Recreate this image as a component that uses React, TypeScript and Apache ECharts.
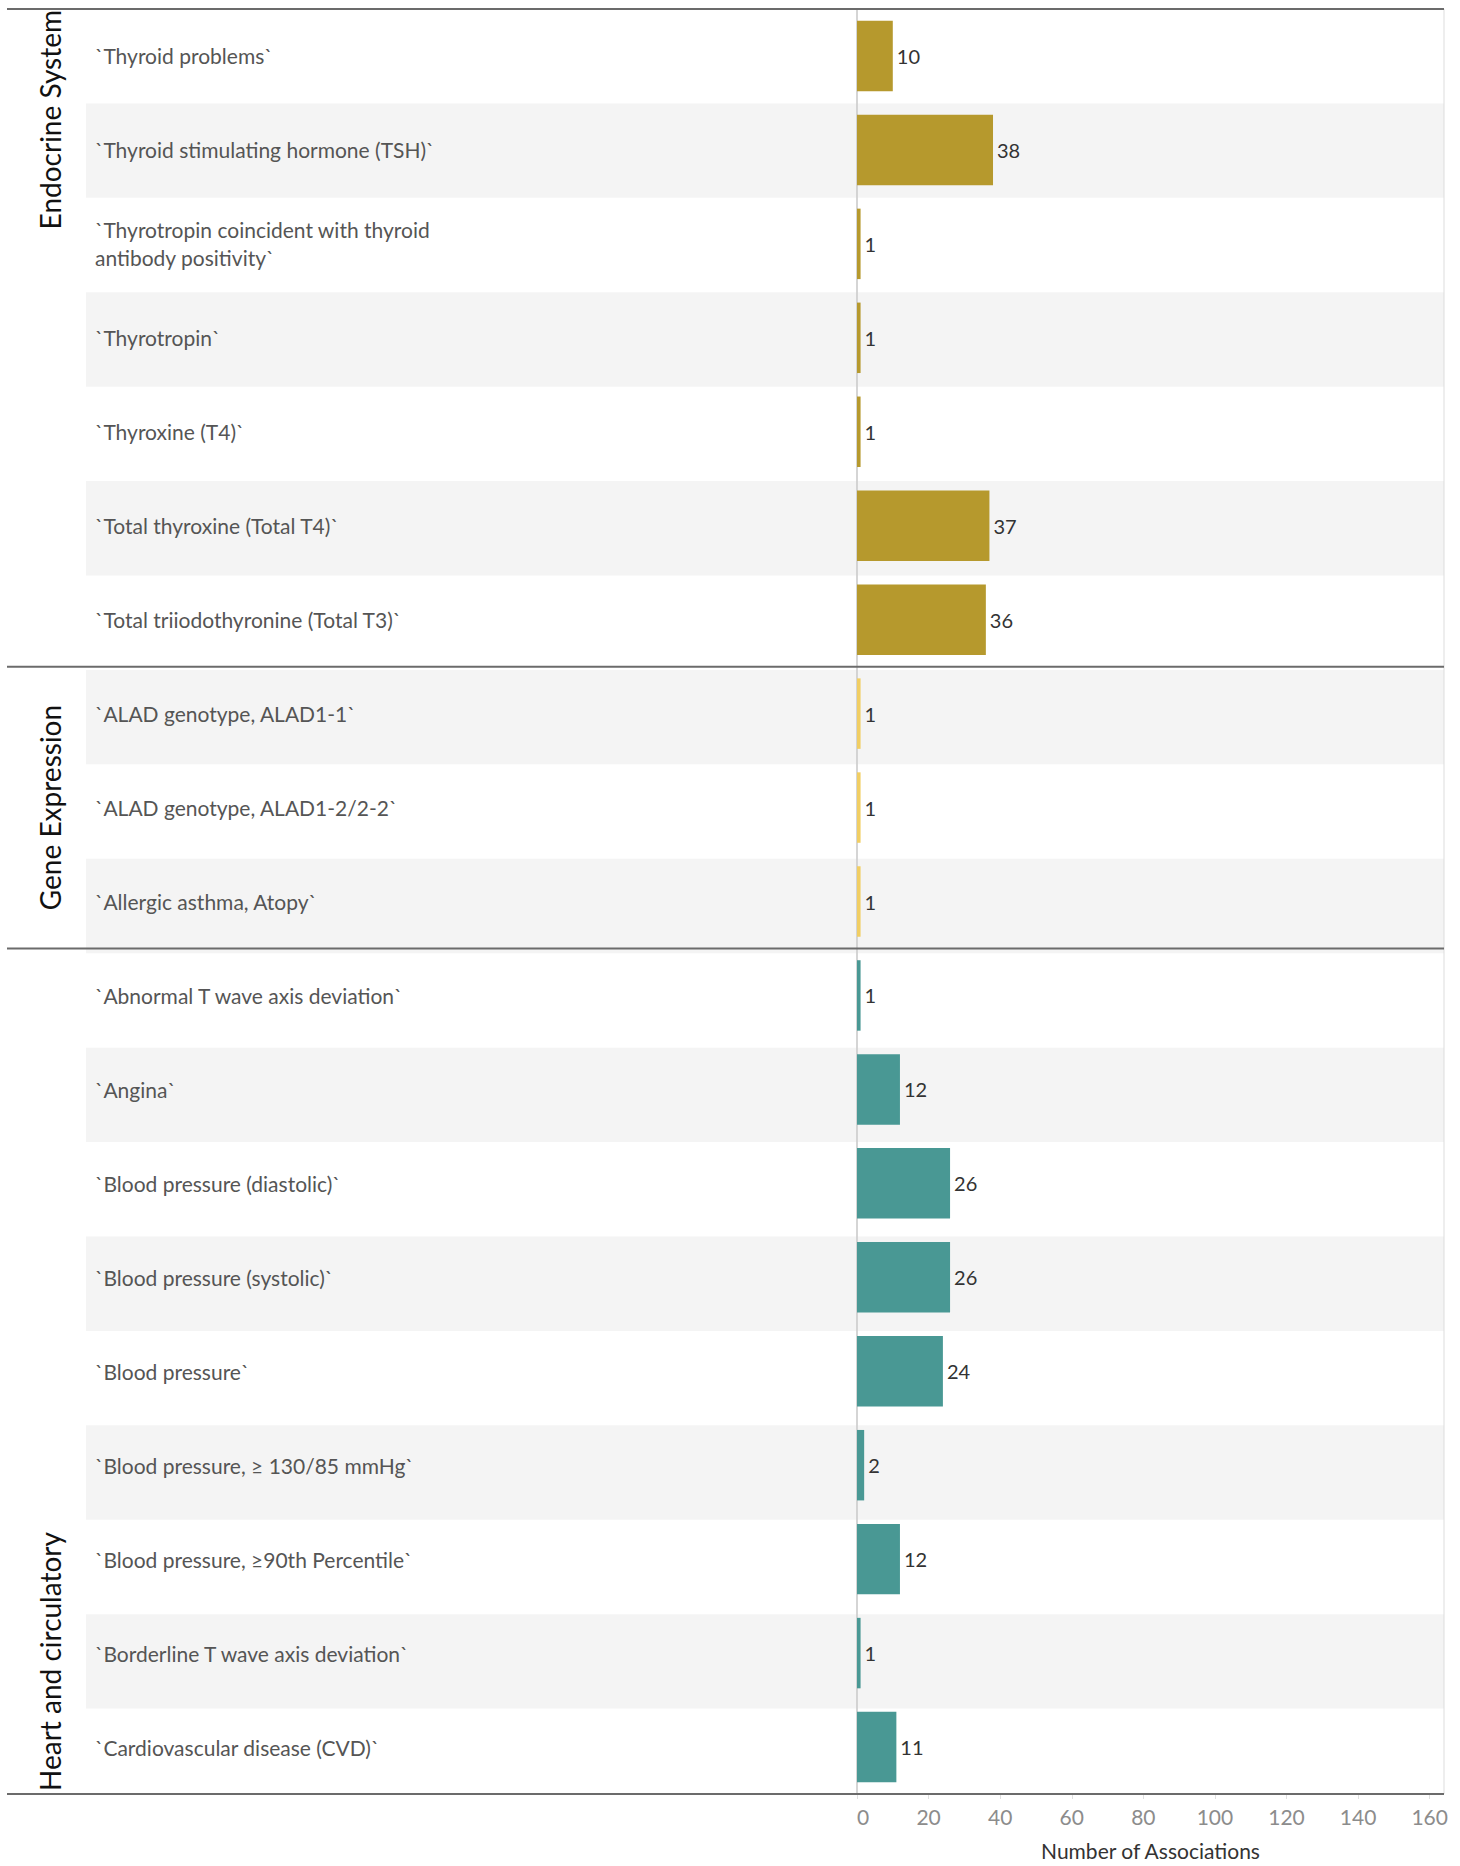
import React, { useEffect, useRef } from "react";
import * as echarts from "echarts";

const categories = [
  "`Thyroid problems`",
  "`Thyroid stimulating hormone (TSH)`",
  "`Thyrotropin coincident with thyroid antibody positivity`",
  "`Thyrotropin`",
  "`Thyroxine (T4)`",
  "`Total thyroxine (Total T4)`",
  "`Total triiodothyronine (Total T3)`",
  "`ALAD genotype, ALAD1-1`",
  "`ALAD genotype, ALAD1-2/2-2`",
  "`Allergic asthma, Atopy`",
  "`Abnormal T wave axis deviation`",
  "`Angina`",
  "`Blood pressure (diastolic)`",
  "`Blood pressure (systolic)`",
  "`Blood pressure`",
  "`Blood pressure, ≥ 130/85 mmHg`",
  "`Blood pressure, ≥90th Percentile`",
  "`Borderline T wave axis deviation`",
  "`Cardiovascular disease (CVD)`",
];

const values = [10, 38, 1, 1, 1, 37, 36, 1, 1, 1, 1, 12, 26, 26, 24, 2, 12, 1, 11];

const groups = [
  "Endocrine System",
  "Endocrine System",
  "Endocrine System",
  "Endocrine System",
  "Endocrine System",
  "Endocrine System",
  "Endocrine System",
  "Gene Expression",
  "Gene Expression",
  "Gene Expression",
  "Heart and circulatory",
  "Heart and circulatory",
  "Heart and circulatory",
  "Heart and circulatory",
  "Heart and circulatory",
  "Heart and circulatory",
  "Heart and circulatory",
  "Heart and circulatory",
  "Heart and circulatory",
];

const groupNames = ["Endocrine System", "Gene Expression", "Heart and circulatory"];
const groupColors = ["#b6992d", "#f1ce63", "#499894"];
const groupLabelAlign = ["top", "center", "bottom"];

const xMin = 0;
const xMax = 164;
const xInterval = 20;
const axisTitle = "Number of Associations";

const FONT = 'Lato, "Noto Sans", sans-serif';

export default function App() {
  const ref = useRef<HTMLDivElement>(null);

  useEffect(() => {
    if (!ref.current) return;
    const chart = echarts.init(ref.current, null, { renderer: "svg" });

    const gridTop = 9;
    const gridBottom = 63;
    const gridRight = 16;

    const option: any = {
      animation: false,
      backgroundColor: "#ffffff",
      textStyle: { fontFamily: FONT },
      grid: [
        {
          left: 857,
          right: gridRight,
          top: gridTop,
          bottom: gridBottom,
          show: true,
          borderColor: "#dddddd",
          borderWidth: 1,
          backgroundColor: "transparent",
          z: 3,
        },
        {
          left: 86,
          right: gridRight,
          top: gridTop,
          bottom: gridBottom,
          show: false,
          z: 0,
        },
      ],
      xAxis: [
        {
          type: "value",
          gridIndex: 0,
          min: xMin,
          max: xMax,
          interval: xInterval,
          z: 3,
          axisLine: { show: false },
          axisTick: {
            show: true,
            length: 5,
            lineStyle: { color: "#e0e0e0", width: 1 },
          },
          splitLine: { show: false },
          axisLabel: {
            color: "#8c8c8c",
            fontSize: 21,
            fontFamily: FONT,
            margin: 12,
            showMaxLabel: false,
            alignMinLabel: "left",
          },
          name: axisTitle,
          nameLocation: "middle",
          nameGap: 46,
          nameTextStyle: { color: "#333333", fontSize: 21, fontFamily: FONT },
        },
        {
          type: "value",
          gridIndex: 1,
          show: false,
          min: 0,
          max: 1,
        },
      ],
      yAxis: [
        {
          type: "category",
          gridIndex: 0,
          data: categories,
          inverse: true,
          z: 3,
          axisLine: { show: true, lineStyle: { color: "#cccccc", width: 1.5 } },
          axisTick: { show: false },
          splitLine: { show: false },
          axisLabel: {
            align: "left",
            margin: 857 - 95,
            color: "#555555",
            fontSize: 21,
            fontFamily: FONT,
            width: 390,
            overflow: "break",
            lineHeight: 28,
          },
        },
        {
          type: "category",
          gridIndex: 1,
          data: categories,
          inverse: true,
          z: 0,
          axisLine: { show: false },
          axisTick: { show: false },
          axisLabel: { show: false },
          splitLine: { show: false },
          splitArea: {
            show: true,
            areaStyle: { color: ["rgba(255,255,255,0)", "#f4f4f4"] },
          },
        },
      ],
      series: [
        {
          type: "bar",
          xAxisIndex: 0,
          yAxisIndex: 0,
          z: 5,
          barWidth: "75%",
          data: values.map((v, i) => ({
            value: v,
            itemStyle: { color: groupColors[groupNames.indexOf(groups[i])] },
          })),
          label: {
            show: true,
            position: "right",
            distance: 4,
            color: "#333333",
            fontSize: 20,
            fontFamily: FONT,
          },
        },
      ],
    };

    chart.setOption(option);

    // group separators and labels positioned through the category scale
    const centers = categories.map((_, i) =>
      chart.convertToPixel({ yAxisIndex: 0 }, i) as number
    );
    const band = Math.abs(centers[1] - centers[0]);
    const rightX = chart.convertToPixel({ xAxisIndex: 0 }, xMax) as number;
    const lineLeft = 7;

    const graphics: any[] = [];
    const bounds: { start: number; end: number }[] = [];
    groupNames.forEach((g) => {
      const idx = groups
        .map((gg, i) => (gg === g ? i : -1))
        .filter((i) => i >= 0);
      const start = centers[idx[0]] - band / 2;
      const end = centers[idx[idx.length - 1]] + band / 2;
      bounds.push({ start, end });
    });

    const lineYs = [bounds[0].start, ...bounds.map((b) => b.end)];
    lineYs.forEach((y) => {
      graphics.push({
        type: "line",
        z: 20,
        shape: { x1: lineLeft, y1: y, x2: rightX, y2: y },
        style: { stroke: "#6b6b6b", lineWidth: 2 },
      });
    });

    groupNames.forEach((g, gi) => {
      const b = bounds[gi];
      const mode = groupLabelAlign[gi];
      let y = (b.start + b.end) / 2;
      let align = "center";
      if (mode === "top") {
        y = b.start + 1;
        align = "right";
      } else if (mode === "bottom") {
        y = b.end - 3;
        align = "left";
      }
      graphics.push({
        type: "text",
        z: 20,
        x: 50,
        y,
        rotation: Math.PI / 2,
        style: {
          text: g,
          fill: "#111111",
          fontSize: 28,
          fontFamily: FONT,
          align,
          verticalAlign: "middle",
        },
      });
    });

    chart.setOption({ graphic: graphics });

    return () => {
      chart.dispose();
    };
  }, []);

  return (
    <div
      ref={ref}
      style={{ position: "absolute", left: 0, top: 0, width: 1460, height: 1866 }}
    />
  );
}
